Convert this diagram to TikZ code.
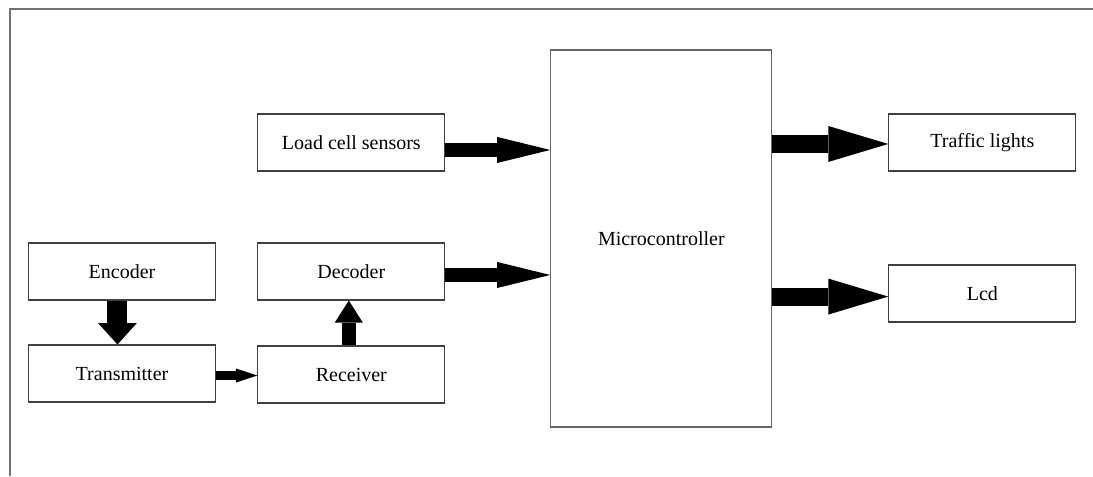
\documentclass[tikz,border=0pt]{standalone}
\usepackage{fontspec}
\setmainfont{Liberation Serif}
\usetikzlibrary{arrows.meta, positioning}

\begin{document}
\begin{tikzpicture}[x=0.75pt, y=-0.75pt, font=\fontsize{15}{18}\selectfont,
    frame/.style={draw=black!55, line width=1.2pt},
    wide/.style={line width=13.5pt, -{Triangle[length=45pt, width=27pt, line width=0pt]}},
    mid/.style={line width=10.5pt, -{Triangle[length=39.75pt, width=19.5pt, line width=0pt]}},
    down/.style={line width=15pt, -{Triangle[length=16pt, width=29pt, line width=0pt]}},
    up/.style={line width=10.5pt, -{Triangle[length=16.5pt, width=21pt, line width=0pt]}},
    thinarrow/.style={line width=6.4pt, -{Triangle[length=16pt, width=10.5pt, line width=0pt]}}]
    % Define styles for the blocks
    \tikzstyle{block} = [draw=black!75, line width=0.8pt, rectangle, inner sep=0pt, minimum width=140.25pt, minimum height=42.75pt]
    \tikzstyle{mcu} = [draw=black!60, line width=0.9pt, rectangle, inner sep=0pt, minimum width=165.75pt, minimum height=282.75pt]

    \useasboundingbox (0,0) rectangle (1093,476);
    \draw[frame] (10,476) -- (10,9) -- (1093,9);

    % Nodes placement
    \node [block] at (122,271.5) (encoder) {Encoder};
    \node [block, below of=encoder, node distance=76.5pt] (transmitter) {Transmitter};
    \node [block, right of=encoder, node distance=172pt] (decoder) {Decoder};
    \node [block, below of=decoder, node distance=77.25pt] (receiver) {Receiver};
    \node [block, above of=decoder, node distance=96.75pt] (load) {Load cell sensors};
    \node [mcu, right of=decoder, node distance=232.5pt, yshift=24.75pt] (micro) {Microcontroller};
    \node [block, right of=load, node distance=473.25pt] (traffic) {Traffic lights};
    \node [block, below of=traffic, node distance=113.25pt] (lcd) {Lcd};

    % Draw edges
    \draw[down] ([xshift=-3.4pt]encoder.south) -- ([xshift=-3.4pt]transmitter.north);
    \draw[thinarrow] ([yshift=-1.5pt]transmitter.east) -- ([yshift=-1.5pt]transmitter.east -| receiver.west);
    \draw[up] ([xshift=-1.9pt]receiver.north) -- ([xshift=-1.9pt]decoder.south);
    \draw[mid] ([yshift=-5.6pt]load.east) -- ([yshift=-5.6pt]load.east -| micro.west);
    \draw[mid] ([yshift=-2.6pt]decoder.east) -- ([yshift=-2.6pt]decoder.east -| micro.west);
    \draw[wide] ([yshift=-1.1pt]traffic.west -| micro.east) -- ([yshift=-1.1pt]traffic.west);
    \draw[wide] ([yshift=-2.3pt]lcd.west -| micro.east) -- ([yshift=-2.3pt]lcd.west);
\end{tikzpicture}
\end{document}
